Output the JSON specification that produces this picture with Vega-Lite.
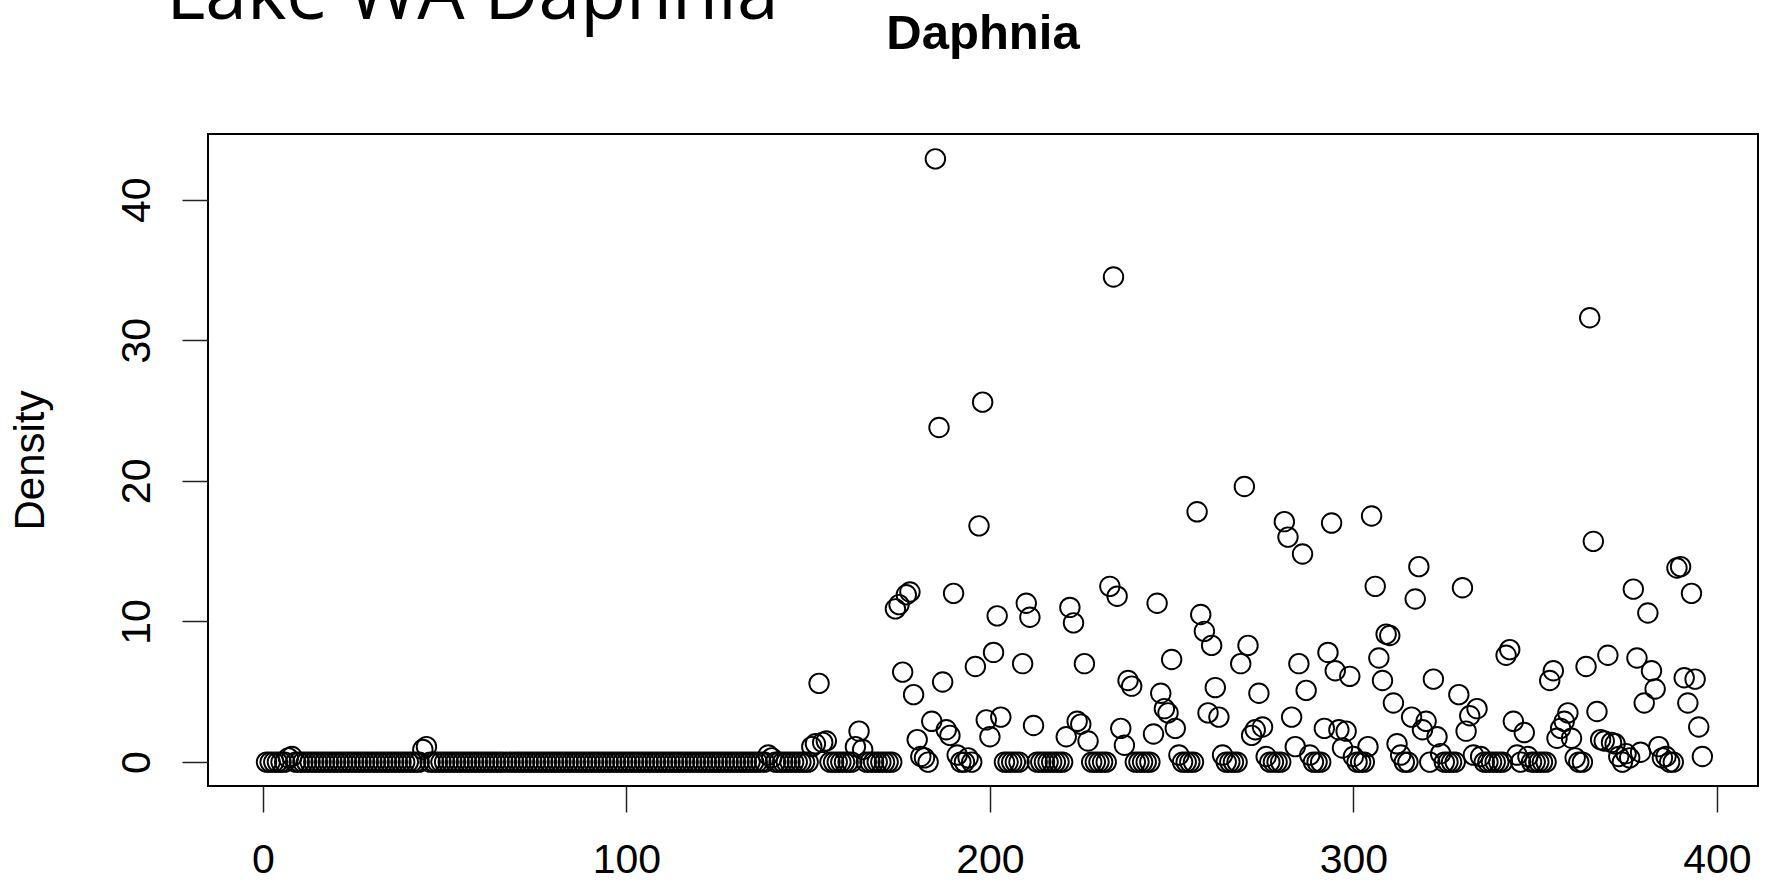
{
"$schema": "https://vega.github.io/schema/vega-lite/v6.json",
"width": 1550,
"height": 652,
"autosize": {"type": "none"},
"padding": {"left": 208, "top": 134, "right": 15, "bottom": 99},
"background": "white",
"config": {"view": {"stroke": "#000", "strokeWidth": 2}, "font": "Liberation Sans"},
"title": {"text": "Daphnia", "font": "Liberation Sans", "fontSize": 49, "fontWeight": "bold", "color": "#000", "anchor": "middle", "baseline": "alphabetic", "offset": 0, "dy": 140},
"data": {"values": [
{"t":1,"d":0},{"t":2,"d":0},{"t":3,"d":0},{"t":4,"d":0},{"t":5,"d":0},{"t":6,"d":0},{"t":7,"d":0.3},{"t":8,"d":0.4},{"t":9,"d":0},{"t":10,"d":0},{"t":11,"d":0},{"t":12,"d":0},
{"t":13,"d":0},{"t":14,"d":0},{"t":15,"d":0},{"t":16,"d":0},{"t":17,"d":0},{"t":18,"d":0},{"t":19,"d":0},{"t":20,"d":0},{"t":21,"d":0},{"t":22,"d":0},{"t":23,"d":0},{"t":24,"d":0},
{"t":25,"d":0},{"t":26,"d":0},{"t":27,"d":0},{"t":28,"d":0},{"t":29,"d":0},{"t":30,"d":0},{"t":31,"d":0},{"t":32,"d":0},{"t":33,"d":0},{"t":34,"d":0},{"t":35,"d":0},{"t":36,"d":0},
{"t":37,"d":0},{"t":38,"d":0},{"t":39,"d":0},{"t":40,"d":0},{"t":41,"d":0},{"t":42,"d":0},{"t":43,"d":0},{"t":44,"d":0.9},{"t":45,"d":1.1},{"t":46,"d":0},{"t":47,"d":0},{"t":48,"d":0},
{"t":49,"d":0},{"t":50,"d":0},{"t":51,"d":0},{"t":52,"d":0},{"t":53,"d":0},{"t":54,"d":0},{"t":55,"d":0},{"t":56,"d":0},{"t":57,"d":0},{"t":58,"d":0},{"t":59,"d":0},{"t":60,"d":0},
{"t":61,"d":0},{"t":62,"d":0},{"t":63,"d":0},{"t":64,"d":0},{"t":65,"d":0},{"t":66,"d":0},{"t":67,"d":0},{"t":68,"d":0},{"t":69,"d":0},{"t":70,"d":0},{"t":71,"d":0},{"t":72,"d":0},
{"t":73,"d":0},{"t":74,"d":0},{"t":75,"d":0},{"t":76,"d":0},{"t":77,"d":0},{"t":78,"d":0},{"t":79,"d":0},{"t":80,"d":0},{"t":81,"d":0},{"t":82,"d":0},{"t":83,"d":0},{"t":84,"d":0},
{"t":85,"d":0},{"t":86,"d":0},{"t":87,"d":0},{"t":88,"d":0},{"t":89,"d":0},{"t":90,"d":0},{"t":91,"d":0},{"t":92,"d":0},{"t":93,"d":0},{"t":94,"d":0},{"t":95,"d":0},{"t":96,"d":0},
{"t":97,"d":0},{"t":98,"d":0},{"t":99,"d":0},{"t":100,"d":0},{"t":101,"d":0},{"t":102,"d":0},{"t":103,"d":0},{"t":104,"d":0},{"t":105,"d":0},{"t":106,"d":0},{"t":107,"d":0},{"t":108,"d":0},
{"t":109,"d":0},{"t":110,"d":0},{"t":111,"d":0},{"t":112,"d":0},{"t":113,"d":0},{"t":114,"d":0},{"t":115,"d":0},{"t":116,"d":0},{"t":117,"d":0},{"t":118,"d":0},{"t":119,"d":0},{"t":120,"d":0},
{"t":121,"d":0},{"t":122,"d":0},{"t":123,"d":0},{"t":124,"d":0},{"t":125,"d":0},{"t":126,"d":0},{"t":127,"d":0},{"t":128,"d":0},{"t":129,"d":0},{"t":130,"d":0},{"t":131,"d":0},{"t":132,"d":0},
{"t":133,"d":0},{"t":134,"d":0},{"t":135,"d":0},{"t":136,"d":0},{"t":137,"d":0},{"t":138,"d":0},{"t":139,"d":0.5},{"t":140,"d":0.3},{"t":141,"d":0},{"t":142,"d":0},{"t":143,"d":0},{"t":144,"d":0},
{"t":145,"d":0},{"t":146,"d":0},{"t":147,"d":0},{"t":148,"d":0},{"t":149,"d":0},{"t":150,"d":0},{"t":151,"d":1.1},{"t":152,"d":1.3},{"t":153,"d":5.6},{"t":154,"d":1.4},{"t":155,"d":1.5},{"t":156,"d":0},
{"t":157,"d":0},{"t":158,"d":0},{"t":159,"d":0},{"t":160,"d":0},{"t":161,"d":0},{"t":162,"d":0},{"t":163,"d":1.1},{"t":164,"d":2.2},{"t":165,"d":0.9},{"t":166,"d":0},{"t":167,"d":0},{"t":168,"d":0},
{"t":169,"d":0},{"t":170,"d":0},{"t":171,"d":0},{"t":172,"d":0},{"t":173,"d":0},{"t":174,"d":10.9},{"t":175,"d":11.2},{"t":176,"d":6.4},{"t":177,"d":11.9},{"t":178,"d":12.1},{"t":179,"d":4.8},{"t":180,"d":1.6},
{"t":181,"d":0.4},{"t":182,"d":0.3},{"t":183,"d":0},{"t":184,"d":2.9},{"t":185,"d":42.9},{"t":186,"d":23.8},{"t":187,"d":5.7},{"t":188,"d":2.3},{"t":189,"d":1.9},{"t":190,"d":12.0},{"t":191,"d":0.5},{"t":192,"d":0},
{"t":193,"d":0},{"t":194,"d":0.3},{"t":195,"d":0},{"t":196,"d":6.8},{"t":197,"d":16.8},{"t":198,"d":25.6},{"t":199,"d":3.0},{"t":200,"d":1.8},{"t":201,"d":7.8},{"t":202,"d":10.4},{"t":203,"d":3.2},{"t":204,"d":0},
{"t":205,"d":0},{"t":206,"d":0},{"t":207,"d":0},{"t":208,"d":0},{"t":209,"d":7.0},{"t":210,"d":11.3},{"t":211,"d":10.3},{"t":212,"d":2.6},{"t":213,"d":0},{"t":214,"d":0},{"t":215,"d":0},{"t":216,"d":0},
{"t":217,"d":0},{"t":218,"d":0},{"t":219,"d":0},{"t":220,"d":0},{"t":221,"d":1.8},{"t":222,"d":11.0},{"t":223,"d":9.9},{"t":224,"d":2.9},{"t":225,"d":2.7},{"t":226,"d":7.0},{"t":227,"d":1.5},{"t":228,"d":0},
{"t":229,"d":0},{"t":230,"d":0},{"t":231,"d":0},{"t":232,"d":0},{"t":233,"d":12.5},{"t":234,"d":34.5},{"t":235,"d":11.8},{"t":236,"d":2.4},{"t":237,"d":1.2},{"t":238,"d":5.8},{"t":239,"d":5.4},{"t":240,"d":0},
{"t":241,"d":0},{"t":242,"d":0},{"t":243,"d":0},{"t":244,"d":0},{"t":245,"d":2.0},{"t":246,"d":11.3},{"t":247,"d":4.9},{"t":248,"d":3.8},{"t":249,"d":3.5},{"t":250,"d":7.3},{"t":251,"d":2.4},{"t":252,"d":0.5},
{"t":253,"d":0},{"t":254,"d":0},{"t":255,"d":0},{"t":256,"d":0},{"t":257,"d":17.8},{"t":258,"d":10.5},{"t":259,"d":9.3},{"t":260,"d":3.5},{"t":261,"d":8.3},{"t":262,"d":5.3},{"t":263,"d":3.2},{"t":264,"d":0.5},
{"t":265,"d":0},{"t":266,"d":0},{"t":267,"d":0},{"t":268,"d":0},{"t":269,"d":7.0},{"t":270,"d":19.6},{"t":271,"d":8.3},{"t":272,"d":1.9},{"t":273,"d":2.3},{"t":274,"d":4.9},{"t":275,"d":2.5},{"t":276,"d":0.4},
{"t":277,"d":0},{"t":278,"d":0},{"t":279,"d":0},{"t":280,"d":0},{"t":281,"d":17.1},{"t":282,"d":16.0},{"t":283,"d":3.2},{"t":284,"d":1.1},{"t":285,"d":7.0},{"t":286,"d":14.8},{"t":287,"d":5.1},{"t":288,"d":0.5},
{"t":289,"d":0},{"t":290,"d":0},{"t":291,"d":0},{"t":292,"d":2.4},{"t":293,"d":7.8},{"t":294,"d":17.0},{"t":295,"d":6.5},{"t":296,"d":2.3},{"t":297,"d":1.0},{"t":298,"d":2.2},{"t":299,"d":6.1},{"t":300,"d":0.4},
{"t":301,"d":0},{"t":302,"d":0},{"t":303,"d":0},{"t":304,"d":1.1},{"t":305,"d":17.5},{"t":306,"d":12.5},{"t":307,"d":7.4},{"t":308,"d":5.8},{"t":309,"d":9.1},{"t":310,"d":9.0},{"t":311,"d":4.2},{"t":312,"d":1.3},
{"t":313,"d":0.5},{"t":314,"d":0},{"t":315,"d":0},{"t":316,"d":3.2},{"t":317,"d":11.6},{"t":318,"d":13.9},{"t":319,"d":2.3},{"t":320,"d":2.9},{"t":321,"d":0},{"t":322,"d":5.9},{"t":323,"d":1.8},{"t":324,"d":0.6},
{"t":325,"d":0},{"t":326,"d":0},{"t":327,"d":0},{"t":328,"d":0},{"t":329,"d":4.8},{"t":330,"d":12.4},{"t":331,"d":2.2},{"t":332,"d":3.3},{"t":333,"d":0.5},{"t":334,"d":3.8},{"t":335,"d":0.4},{"t":336,"d":0},
{"t":337,"d":0},{"t":338,"d":0},{"t":339,"d":0},{"t":340,"d":0},{"t":341,"d":0},{"t":342,"d":7.6},{"t":343,"d":8.0},{"t":344,"d":2.9},{"t":345,"d":0.5},{"t":346,"d":0},{"t":347,"d":2.1},{"t":348,"d":0.4},
{"t":349,"d":0},{"t":350,"d":0},{"t":351,"d":0},{"t":352,"d":0},{"t":353,"d":0},{"t":354,"d":5.8},{"t":355,"d":6.5},{"t":356,"d":1.7},{"t":357,"d":2.4},{"t":358,"d":2.9},{"t":359,"d":3.5},{"t":360,"d":1.7},
{"t":361,"d":0.3},{"t":362,"d":0},{"t":363,"d":0},{"t":364,"d":6.8},{"t":365,"d":31.6},{"t":366,"d":15.7},{"t":367,"d":3.6},{"t":368,"d":1.6},{"t":369,"d":1.5},{"t":370,"d":7.6},{"t":371,"d":1.4},{"t":372,"d":1.3},
{"t":373,"d":0.4},{"t":374,"d":0},{"t":375,"d":0.6},{"t":376,"d":0.3},{"t":377,"d":12.3},{"t":378,"d":7.4},{"t":379,"d":0.7},{"t":380,"d":4.2},{"t":381,"d":10.6},{"t":382,"d":6.5},{"t":383,"d":5.2},{"t":384,"d":1.1},
{"t":385,"d":0.3},{"t":386,"d":0.4},{"t":387,"d":0},{"t":388,"d":0},{"t":389,"d":13.8},{"t":390,"d":13.9},{"t":391,"d":6.0},{"t":392,"d":4.2},{"t":393,"d":12.0},{"t":394,"d":5.9},{"t":395,"d":2.5},{"t":396,"d":0.4}
]},
"mark": {"type": "point", "shape": "circle", "filled": false, "stroke": "#000", "strokeWidth": 1.9, "size": 380, "opacity": 1},
"encoding": {
  "x": {"field": "t", "type": "quantitative",
    "scale": {"domain": [-15.1, 411.3], "nice": false, "zero": false},
    "axis": {"values": [0, 100, 200, 300, 400], "grid": false, "domain": false,
      "tickSize": 26, "tickColor": "#222", "tickWidth": 1.5,
      "labelFont": "Liberation Sans", "labelFontSize": 41, "labelColor": "#000",
      "labelBaseline": "alphabetic", "labelPadding": 60, "labelFlush": false, "labelOverlap": false,
      "title": "•\u00a0\u00a0\u00a0Lake WA Daphnia", "titleFont": "Open Sans", "titleFontSize": 75, "titleFontWeight": "normal", "titleColor": "#000",
      "titleX": -129, "titleY": -768, "titleAlign": "left", "titleBaseline": "alphabetic", "titleAngle": 0}},
  "y": {"field": "d", "type": "quantitative",
    "scale": {"domain": [-1.7, 44.67], "nice": false, "zero": false},
    "axis": {"values": [0, 10, 20, 30, 40], "grid": false, "domain": false,
      "tickSize": 26, "tickColor": "#222", "tickWidth": 1.5,
      "labelFont": "Liberation Sans", "labelFontSize": 41, "labelColor": "#000",
      "labelAngle": 270, "labelAlign": "center", "labelBaseline": "alphabetic", "labelPadding": 33, "labelOverlap": false,
      "title": "Density", "titleFont": "Liberation Sans", "titleFontSize": 42, "titleFontWeight": "normal", "titleColor": "#000",
      "titleAngle": 270, "titleX": -165, "titleY": 326, "titleAlign": "center", "titleBaseline": "alphabetic"}}
}
}
